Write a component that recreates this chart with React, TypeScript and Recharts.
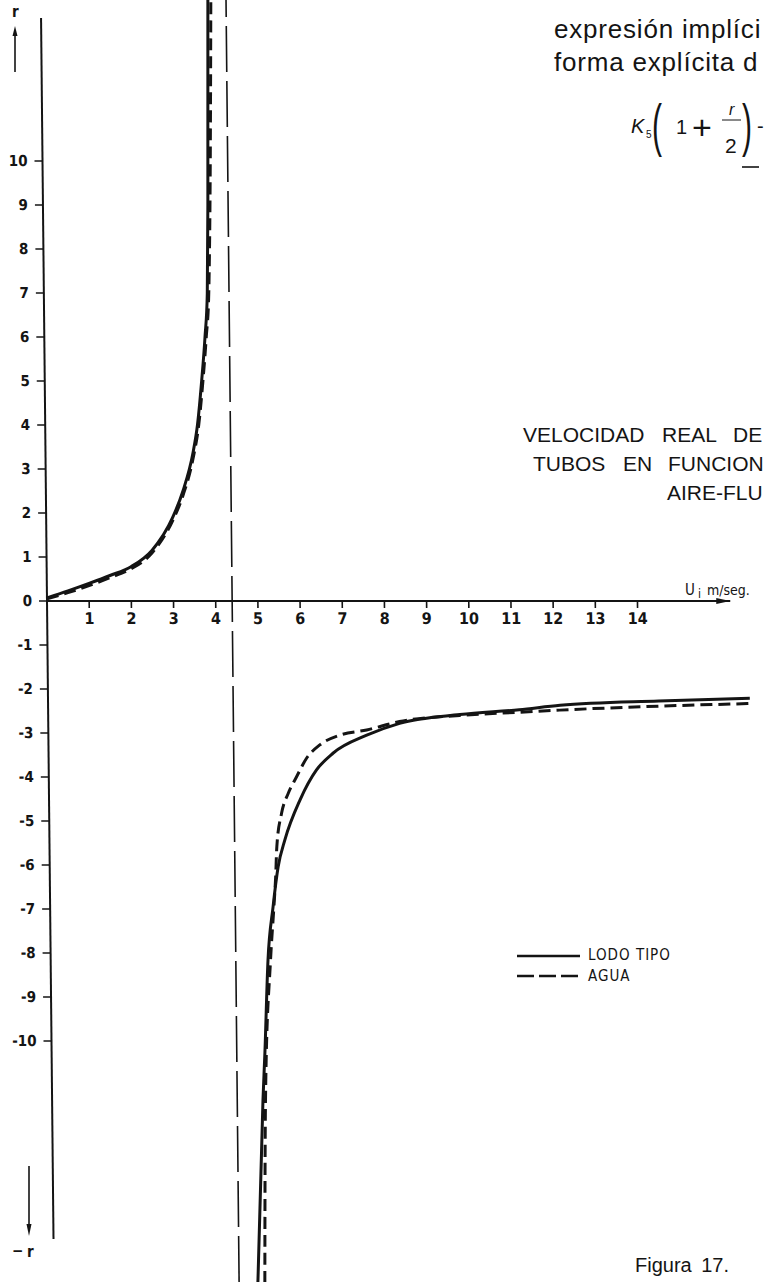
import React from 'react';
import { ComposedChart, Line, Scatter, XAxis, YAxis, ReferenceLine } from 'recharts';

// Ui (m/seg) frente a r
const lodoTipoSuperior = [
  { u: 0, r: 0.07 }, { u: 0.5, r: 0.23 }, { u: 1.0, r: 0.4 }, { u: 1.5, r: 0.58 },
  { u: 2.0, r: 0.78 }, { u: 2.5, r: 1.15 }, { u: 3.0, r: 1.9 }, { u: 3.25, r: 2.5 },
  { u: 3.5, r: 3.38 }, { u: 3.61, r: 4.0 }, { u: 3.72, r: 5.0 }, { u: 3.81, r: 6.0 },
  { u: 3.875, r: 7.0 }, { u: 3.91, r: 9.0 }, { u: 3.96, r: 13.7 },
];

const aguaSuperior = [
  { u: 0, r: 0.05 }, { u: 0.5, r: 0.19 }, { u: 1.0, r: 0.35 }, { u: 1.5, r: 0.53 },
  { u: 2.0, r: 0.73 }, { u: 2.5, r: 1.09 }, { u: 3.0, r: 1.83 }, { u: 3.25, r: 2.4 },
  { u: 3.5, r: 3.25 }, { u: 3.64, r: 4.0 }, { u: 3.75, r: 5.0 }, { u: 3.84, r: 6.0 },
  { u: 3.91, r: 7.0 }, { u: 3.96, r: 9.0 }, { u: 4.03, r: 13.7 },
];

const lodoTipoInferior = [
  { u: 4.835, r: -15.5 }, { u: 5.0, r: -11.34 }, { u: 5.057, r: -10.27 }, { u: 5.153, r: -8.16 },
  { u: 5.286, r: -6.95 }, { u: 5.416, r: -6.04 }, { u: 5.582, r: -5.43 }, { u: 5.952, r: -4.52 },
  { u: 6.349, r: -3.84 }, { u: 6.743, r: -3.46 }, { u: 7.548, r: -3.05 }, { u: 8.33, r: -2.78 },
  { u: 9.763, r: -2.58 }, { u: 11.17, r: -2.47 }, { u: 12.14, r: -2.37 }, { u: 14.48, r: -2.27 },
  { u: 16.64, r: -2.21 },
];

const aguaInferior = [
  { u: 5.0, r: -15.5 }, { u: 5.06, r: -11.34 }, { u: 5.213, r: -8.16 }, { u: 5.306, r: -6.95 },
  { u: 5.353, r: -6.3 }, { u: 5.39, r: -5.58 }, { u: 5.509, r: -4.83 }, { u: 5.674, r: -4.37 },
  { u: 5.878, r: -3.99 }, { u: 6.112, r: -3.58 }, { u: 6.435, r: -3.27 }, { u: 6.908, r: -3.05 },
  { u: 7.549, r: -2.93 }, { u: 8.33, r: -2.74 }, { u: 9.76, r: -2.6 }, { u: 11.17, r: -2.53 },
  { u: 12.13, r: -2.48 }, { u: 14.47, r: -2.39 }, { u: 16.675, r: -2.33 },
];

const xTicks = [1, 2, 3, 4, 5, 6, 7, 8, 9, 10, 11, 12, 13, 14];
const yTicks = [-10, -9, -8, -7, -6, -5, -4, -3, -2, -1, 0, 1, 2, 3, 4, 5, 6, 7, 8, 9, 10];
const asintota = 4.39;
const finEjeX = 16.2;
const ejeYSup = 13.25;
const ejeYInf = -14.5;

const xTickRows = xTicks.map((u) => ({ u, r: 0 }));
const flechaRows = [{ u: finEjeX, r: 0 }];

const INK = '#141414';
const TICK_FONT = "'DejaVu Sans Condensed', 'DejaVu Sans', sans-serif";
const TEXT_FONT = "'Liberation Sans', Arial, sans-serif";

const XTick = (props: any) => {
  const { cx, cy, payload } = props;
  return (
    <g>
      <line x1={cx} y1={cy} x2={cx} y2={cy + 7} stroke={INK} strokeWidth={1.6} />
      <text x={cx} y={cy + 23} textAnchor="middle" fontSize={16} fontFamily={TICK_FONT} fontWeight="bold" fill={INK}>
        {payload.u}
      </text>
    </g>
  );
};

const Flecha = (props: any) => {
  const { cx, cy } = props;
  return <polygon points={`${cx},${cy} ${cx - 14},${cy - 3} ${cx - 14},${cy + 3}`} fill={INK} />;
};

function Anotaciones() {
  return (
    <svg width={764} height={1282} style={{ position: 'absolute', left: 0, top: 0, pointerEvents: 'none' }}>
      <g fontFamily={TEXT_FONT} fill={INK}>
        <text x={554} y={38} fontSize={26} letterSpacing={0.8}>expresión implíci</text>
        <text x={554} y={71} fontSize={26} letterSpacing={0.8}>forma explícita d</text>

        <text x={631} y={133} fontSize={20} fontStyle="italic">K</text>
        <text x={646} y={138} fontSize={10}>5</text>
        <text transform="translate(652,145) scale(1,1.9)" fontSize={30}>(</text>
        <text x={676} y={134} fontSize={20}>1</text>
        <text x={692} y={139} fontSize={34}>+</text>
        <text x={729} y={115} fontSize={16} fontStyle="italic">r</text>
        <line x1={722} y1={120} x2={741} y2={120} stroke={INK} strokeWidth={1} />
        <text x={725} y={153} fontSize={21}>2</text>
        <text transform="translate(742,145) scale(1,1.9)" fontSize={30}>)</text>
        <text x={757} y={133} fontSize={20}>-</text>
        <line x1={742} y1={167} x2={759} y2={167} stroke={INK} strokeWidth={1.6} />

        <text x={523} y={442} fontSize={21}>VELOCIDAD</text>
        <text x={662} y={442} fontSize={21}>REAL</text>
        <text x={733} y={442} fontSize={21}>DE</text>
        <text x={533} y={471} fontSize={21}>TUBOS</text>
        <text x={623} y={471} fontSize={21}>EN</text>
        <text x={668} y={471} fontSize={21}>FUNCION</text>
        <text x={667} y={500} fontSize={21}>AIRE-FLU</text>

        <text x={635} y={1272} fontSize={20} wordSpacing={4}>Figura 17.</text>
      </g>

      <g fontFamily={TICK_FONT} fill={INK}>
        <text x={685} y={595} fontSize={15}>U</text>
        <text x={698} y={598} fontSize={12}>i</text>
        <text x={707} y={595} fontSize={14}>m/seg.</text>

        <text x={12} y={17} fontSize={15} fontWeight="bold">r</text>
        <line x1={15} y1={34} x2={15} y2={72} stroke={INK} strokeWidth={1.6} />
        <polygon points="15,26 12.5,36 17.5,36" fill={INK} />

        <line x1={29} y1={1166} x2={29} y2={1226} stroke={INK} strokeWidth={1.6} />
        <polygon points="29,1236 26.5,1224 31.5,1224" fill={INK} />
        <text x={12} y={1256} fontSize={15} fontWeight="bold">−</text>
        <text x={27} y={1257} fontSize={15} fontWeight="bold">r</text>

        <line x1={517} y1={956} x2={580} y2={956} stroke={INK} strokeWidth={2.5} />
        <text x={588} y={960} fontSize={15} letterSpacing={1}>LODO TIPO</text>
        <line x1={517} y1={976} x2={580} y2={976} stroke={INK} strokeWidth={2.5} strokeDasharray="17 5" />
        <text x={588} y={981} fontSize={15} letterSpacing={1}>AGUA</text>
      </g>
    </svg>
  );
}

export default function App() {
  return (
    <div style={{ position: 'absolute', left: 0, top: 0, width: 764, height: 1282, overflow: 'hidden', background: '#fff' }}>
      {/* la figura escaneada está ligeramente inclinada */}
      <div style={{ position: 'absolute', left: 0, top: 0, transform: 'skewX(0.585deg)', transformOrigin: '0 601px' }}>
        <ComposedChart width={764} height={1282} margin={{ top: 0, right: 0, bottom: 0, left: 0 }}>
          <XAxis type="number" dataKey="u" domain={[0, 17]} allowDataOverflow hide />
          <YAxis
            type="number"
            dataKey="r"
            domain={[-15.477, 13.659]}
            allowDataOverflow
            ticks={yTicks}
            interval={0}
            width={47}
            axisLine={false}
            tickSize={8}
            tickMargin={7}
            tickLine={{ stroke: INK, strokeWidth: 1.6 }}
            tick={{ fontSize: 15, fontFamily: TICK_FONT, fontWeight: 'bold', fill: INK }}
          />
          <ReferenceLine segment={[{ x: 0, y: ejeYSup }, { x: 0, y: ejeYInf }]} stroke={INK} strokeWidth={2} ifOverflow="visible" />
          <ReferenceLine segment={[{ x: 0, y: 0 }, { x: finEjeX, y: 0 }]} stroke={INK} strokeWidth={1.8} ifOverflow="visible" />
          <ReferenceLine x={asintota} stroke={INK} strokeWidth={1.6} strokeDasharray="46 9" />
          <Line data={lodoTipoSuperior} dataKey="r" type="monotone" stroke={INK} strokeWidth={3} dot={false} isAnimationActive={false} />
          <Line data={aguaSuperior} dataKey="r" type="monotone" stroke={INK} strokeWidth={3} strokeDasharray="12 6" dot={false} isAnimationActive={false} />
          <Line data={lodoTipoInferior} dataKey="r" type="monotone" stroke={INK} strokeWidth={3} dot={false} isAnimationActive={false} />
          <Line data={aguaInferior} dataKey="r" type="monotone" stroke={INK} strokeWidth={3} strokeDasharray="12 6" dot={false} isAnimationActive={false} />
          <Scatter data={xTickRows} dataKey="r" shape={XTick} isAnimationActive={false} />
          <Scatter data={flechaRows} dataKey="r" shape={Flecha} isAnimationActive={false} />
        </ComposedChart>
      </div>
      <Anotaciones />
    </div>
  );
}
